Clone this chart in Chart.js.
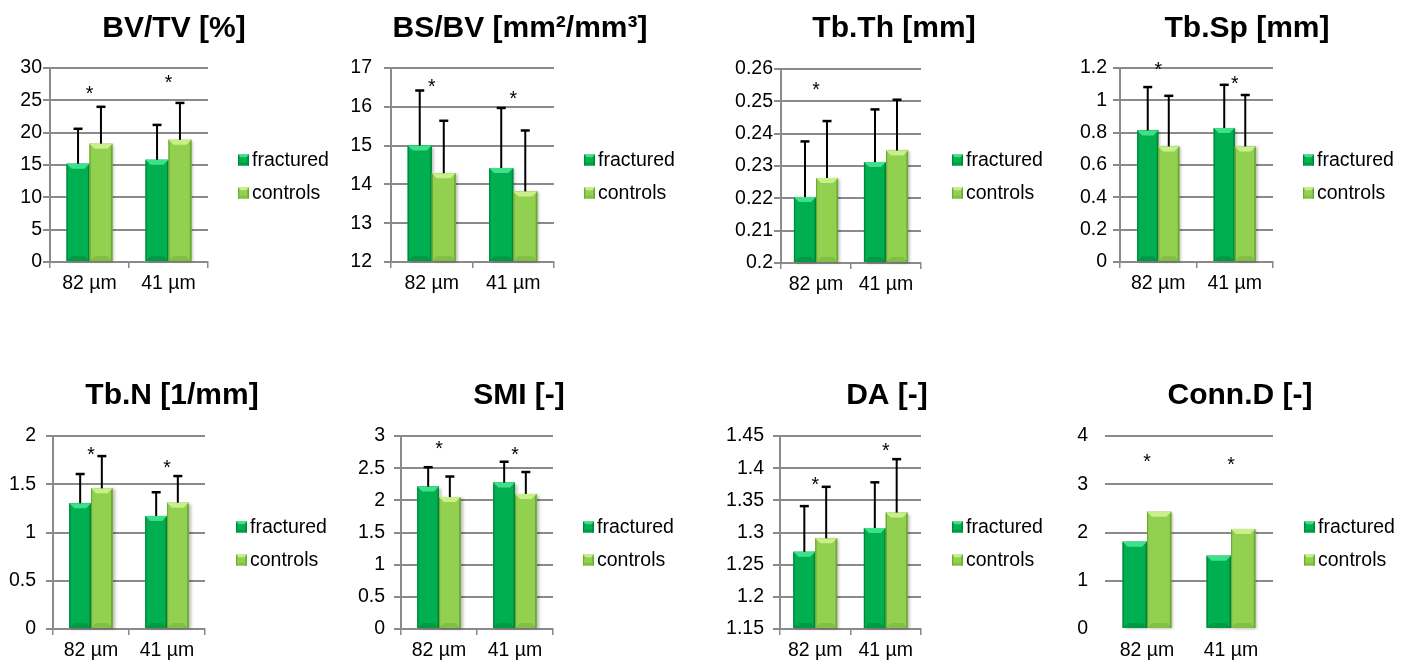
<!DOCTYPE html>
<html>
<head>
<meta charset="utf-8">
<title>Bone microstructure - fractured vs controls</title>
<script src="https://cdn.jsdelivr.net/npm/chart.js@4.4.1/dist/chart.umd.min.js"></script>
<style>
    html, body { margin: 0; padding: 0; background: #fff; }
    body { width: 1409px; height: 664px; position: relative; overflow: hidden; }
    .panel { position: absolute; }
</style>
</head>
<body>
<script>
/* ---------- DATA ---------- */
const categories   = ['82 µm', '41 µm'];
const seriesNames  = ['fractured', 'controls'];
const panelTitles  = ['BV/TV [%]', 'BS/BV [mm²/mm³]', 'Tb.Th [mm]', 'Tb.Sp [mm]',
                      'Tb.N [1/mm]', 'SMI [-]', 'DA [-]', 'Conn.D [-]'];

const fracturedMean = [[15.2, 15.8], [15.0, 14.42], [0.2204, 0.2312], [0.814, 0.829],
                       [1.303, 1.172], [2.214, 2.276], [1.270, 1.307], [1.81, 1.52]];
const fracturedSD   = [[5.4, 5.4], [1.42, 1.55], [0.0172, 0.0163], [0.268, 0.267],
                       [0.303, 0.245], [0.301, 0.324], [0.071, 0.071], null];
const controlsMean  = [[18.3, 18.9], [14.29, 13.82], [0.2263, 0.2348], [0.715, 0.715],
                       [1.458, 1.309], [2.05, 2.10], [1.291, 1.331], [2.43, 2.07]];
const controlsSD    = [[5.7, 5.7], [1.35, 1.57], [0.0176, 0.0157], [0.313, 0.318],
                       [0.334, 0.276], [0.32, 0.34], [0.080, 0.083], null];
// significance stars (*): value where each star sits, null = no star
const starLevel     = [[26.8, 28.4], [16.65, 16.33], [0.2549, null], [1.216, 1.133],
                       [1.854, 1.723], [2.877, 2.78], [1.381, 1.435], [3.56, 3.5]];

// y axis ranges / tick steps
const yMin  = [0, 12, 0.2, 0, 0, 0, 1.15, 0];
const yMax  = [30, 17, 0.26, 1.2, 2, 3, 1.45, 4];
const yStep = [5, 1, 0.01, 0.2, 0.5, 0.5, 0.05, 1];

/* ---------- LAYOUT ---------- */
const PANEL_W = 352, PANEL_H = 297;
const panelPos = [[0, 0], [352, 0], [704, 0], [1056, 0], [0, 367], [352, 367], [704, 367], [1056, 367]];
// plot box inside each panel: left, right, top, bottom
const plotBox  = [[50, 208, 68, 262], [39, 202, 68, 262], [77, 217, 69, 263], [64, 217, 68, 262],
                  [53, 205, 69, 262], [49, 201, 69, 262], [76, 217, 69, 262], [49, 217, 69, 262]];
const labelGap = [1, 12, 1, 6, 10, 9, 9, 10];
const titleX   = [174, 168, 190, 191, 172, 167, 183, 184];
const legendX  = [238, 232, 248, 247, 236, 231, 248, 248];
const barFill  = [0.58, 0.59, 0.63, 0.55, 0.57, 0.57, 0.62, 0.58];

const GRID = '#8a8a8a';
const FONT = '"Liberation Sans", Arial, sans-serif';
const LOOK = [
    { fill: '#00b050', light: '#3fe08a', dark: '#00873b', base: '#009944' },   // fractured
    { fill: '#92d050', light: '#c9ef8a', dark: '#6fa738', base: '#82c043' },   // controls
];

Chart.defaults.font.family = FONT;
Chart.defaults.color = '#000';

/* ---------- DRAW HELPERS ---------- */
function poly(ctx, pts) {
    ctx.beginPath();
    ctx.moveTo(pts[0][0], pts[0][1]);
    for (let k = 1; k < pts.length; k++) ctx.lineTo(pts[k][0], pts[k][1]);
    ctx.closePath();
    ctx.fill();
}

// Excel-ish bevelled bar with a soft drop shadow
function bevelRect(ctx, l, t, r, b, c, shadow) {
    const w = r - l, h = b - t;
    if (w <= 0 || h <= 0) return;
    const e = Math.min(5, w / 4, h / 2);
    ctx.save();
    if (shadow) {
        ctx.shadowColor = 'rgba(0,0,0,0.28)';
        ctx.shadowBlur = 3;
        ctx.shadowOffsetX = 2;
        ctx.shadowOffsetY = 1;
    }
    ctx.fillStyle = c.fill;
    ctx.fillRect(l, t, w, h);
    ctx.restore();
    ctx.fillStyle = c.base;
    poly(ctx, [[l, b], [r, b], [r - e, b - e], [l + e, b - e]]);
    ctx.fillStyle = c.dark;
    ctx.fillRect(l, t, 1.2, h);
    ctx.fillRect(r - 1.6, t, 1.6, h);
    ctx.fillStyle = c.light;
    poly(ctx, [[l, t], [r, t], [r - e, t + e], [l + e, t + e]]);
}

const decor = {
    id: 'decor',
    afterDatasetsDraw(chart, args, opts) {
        const i = opts.index;
        const ctx = chart.ctx;
        const xS = chart.scales.x, yS = chart.scales.y;
        const area = chart.chartArea;
        ctx.save();
        chart.data.datasets.forEach((ds, d) => {
            const meta = chart.getDatasetMeta(d);
            meta.data.forEach((bar, k) => {
                const p = bar.getProps(['x', 'y', 'base', 'width'], true);
                const bottom = Math.min(p.base, area.bottom);
                bevelRect(ctx, p.x - p.width / 2, p.y, p.x + p.width / 2, bottom, LOOK[d], true);
            });
        });
        // upper error bars, on top of all bars
        chart.data.datasets.forEach((ds, d) => {
            if (!ds.sd) return;
            const meta = chart.getDatasetMeta(d);
            meta.data.forEach((bar, k) => {
                const p = bar.getProps(['x', 'y'], true);
                const yTop = yS.getPixelForValue(ds.data[k] + ds.sd[k]);
                ctx.strokeStyle = '#000';
                ctx.lineWidth = 2;
                ctx.beginPath();
                ctx.moveTo(p.x, p.y);
                ctx.lineTo(p.x, yTop);
                ctx.stroke();
                ctx.lineWidth = 2.5;
                ctx.beginPath();
                ctx.moveTo(p.x - 4.5, yTop);
                ctx.lineTo(p.x + 4.5, yTop);
                ctx.stroke();
            });
        });
        // stars
        ctx.fillStyle = '#000';
        ctx.font = '19.5px ' + FONT;
        ctx.textAlign = 'center';
        ctx.textBaseline = 'alphabetic';
        starLevel[i].forEach((v, k) => {
            if (v == null) return;
            ctx.fillText('*', xS.getPixelForValue(k), yS.getPixelForValue(v) + 11);
        });
        ctx.restore();
    },
    afterDraw(chart, args, opts) {
        const i = opts.index;
        const ctx = chart.ctx;
        ctx.save();
        ctx.fillStyle = '#000';
        ctx.font = 'bold 30px ' + FONT;
        ctx.textAlign = 'center';
        ctx.textBaseline = 'middle';
        ctx.fillText(panelTitles[i], titleX[i], 29);
        // legend
        ctx.font = '19.5px ' + FONT;
        ctx.textAlign = 'left';
        [160, 193].forEach((y, s) => {
            bevelRect(ctx, legendX[i], y - 5.5, legendX[i] + 11, y + 5.5, LOOK[s], false);
            ctx.fillStyle = '#000';
            ctx.fillText(seriesNames[s], legendX[i] + 14, y + 1);
        });
        ctx.restore();
    }
};

function fmtTick(v) {
    return String(Math.round(v * 10000) / 10000);
}

/* ---------- BUILD PANELS ---------- */
function buildPanel(i) {
    const [px, py] = panelPos[i];
    const [L, R, T, B] = plotBox[i];
    const bare = i === 7;   // Conn.D is drawn without axis lines

    const box = document.createElement('div');
    box.className = 'panel';
    box.style.left = px + 'px';
    box.style.top = py + 'px';
    box.style.width = PANEL_W + 'px';
    box.style.height = PANEL_H + 'px';
    const cv = document.createElement('canvas');
    box.appendChild(cv);
    document.body.appendChild(box);

    return new Chart(cv, {
        type: 'bar',
        data: {
            labels: categories,
            datasets: [
                { label: seriesNames[0], data: fracturedMean[i], sd: fracturedSD[i], base: yMin[i], backgroundColor: LOOK[0].fill },
                { label: seriesNames[1], data: controlsMean[i],  sd: controlsSD[i],  base: yMin[i], backgroundColor: LOOK[1].fill },
            ]
        },
        options: {
            responsive: true,
            maintainAspectRatio: false,
            animation: false,
            events: [],
            layout: { padding: { left: 0, top: T, right: PANEL_W - R, bottom: 0 } },
            datasets: { bar: { categoryPercentage: barFill[i], barPercentage: 1 } },
            plugins: {
                legend: { display: false },
                title: { display: false },
                tooltip: { enabled: false },
                decor: { index: i }
            },
            scales: {
                x: {
                    grid: {
                        drawOnChartArea: false,
                        tickLength: 6,
                        lineWidth: 1.5,
                        color: bare ? 'rgba(0,0,0,0)' : GRID
                    },
                    border: { display: !bare, color: GRID, width: 2 },
                    ticks: { padding: 4, color: '#000', font: { size: 19.5 } },
                    afterFit: s => { s.height = PANEL_H - B; }
                },
                y: {
                    min: yMin[i],
                    max: yMax[i],
                    grid: {
                        lineWidth: 2,
                        tickLength: 7,
                        color: ctx => (bare && ctx.tick && ctx.tick.value === yMin[i]) ? 'rgba(0,0,0,0)' : GRID,
                        tickColor: bare ? 'rgba(0,0,0,0)' : GRID
                    },
                    border: { display: !bare, color: GRID, width: 2 },
                    ticks: {
                        stepSize: yStep[i],
                        padding: labelGap[i],
                        color: '#000',
                        font: { size: 19.5 },
                        callback: fmtTick
                    },
                    afterFit: s => { s.width = L; }
                }
            }
        },
        plugins: [decor]
    });
}

for (let i = 0; i < panelTitles.length; i++) buildPanel(i);
</script>
</body>
</html>
